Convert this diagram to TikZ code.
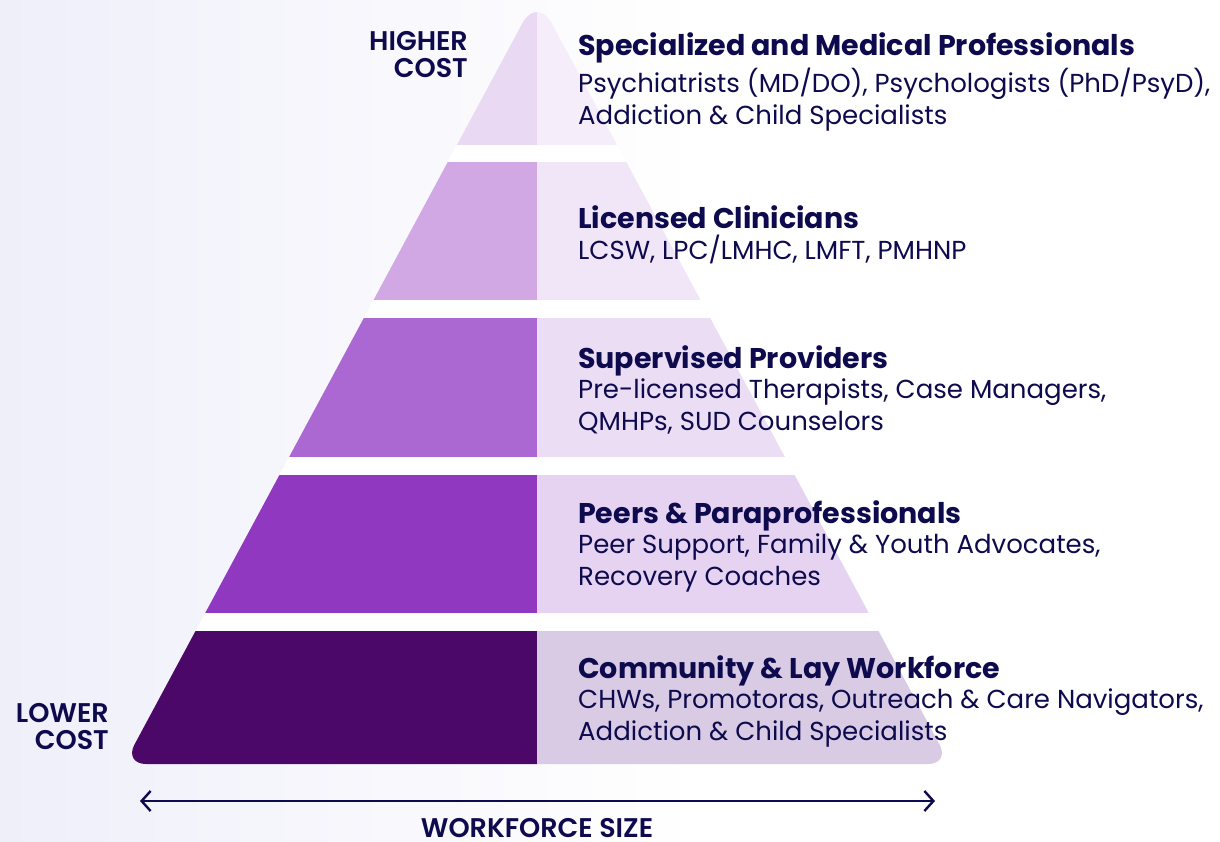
\documentclass[tikz,border=0pt]{standalone}
\usepackage{fontspec}
\setmainfont{Poppins}
\newfontface\semifont{Poppins SemiBold}
\usetikzlibrary{arrows.meta, positioning}
\definecolor{ink}{HTML}{0E0A4E}
\definecolor{bgleft}{HTML}{EFEFFA}
\definecolor{darkA}{HTML}{EAD9F2}
\definecolor{lightA}{HTML}{F5EEFA}
\definecolor{darkB}{HTML}{D1A8E3}
\definecolor{lightB}{HTML}{F0E6F7}
\definecolor{darkC}{HTML}{AB68D2}
\definecolor{lightC}{HTML}{EADDF4}
\definecolor{darkD}{HTML}{9038C0}
\definecolor{lightD}{HTML}{E6D3F1}
\definecolor{darkE}{HTML}{4B0868}
\definecolor{lightE}{HTML}{D8CBE3}
\tikzset{x=1pt, y=-1pt,
         tiertitle/.style={anchor=base west, inner sep=0pt, text=ink,
                           font=\fontsize{28.5}{32}\selectfont\bfseries},
         tiertext/.style={anchor=base west, inner sep=0pt, text=ink, align=left,
                          font=\fontsize{26}{32}\selectfont},
         costlabel/.style={anchor=base east, inner sep=0pt, text=ink, align=right,
                           font=\fontsize{27}{27}\semifont},
         }

\begin{document}
\begin{tikzpicture}
    % background
    \fill[white] (0,0) rectangle (1220,842);
    \shade[left color=bgleft, right color=white] (0,0) rectangle (700,842);
    \useasboundingbox (0,0) rectangle (1220,842);

    % pyramid
    \begin{scope}
        \clip[rounded corners=22pt] (537,764) -- (124,764)
            [rounded corners=31pt] -- (537,-4)
            [rounded corners=22pt] -- (950,764) -- cycle;
        \fill[white] (100,-10) rectangle (980,780);
        \foreach \top/\bot/\dark/\light in {-10/145/darkA/lightA, 162/300/darkB/lightB,
                318/457/darkC/lightC, 475/613/darkD/lightD, 631/780/darkE/lightE} {
            \fill[\dark] (100,\top) rectangle (537,\bot);
            \fill[\light] (537,\top) rectangle (980,\bot);
        }
    \end{scope}

    % tier labels (multi-line texts sit on their last line)
    \node[tiertitle] (titleA) at (578,56) {Specialized and Medical Professionals};
    \node[tiertext] (textA) at (578,125) {Psychiatrists (MD/DO), Psychologists (PhD/PsyD),\\Addiction \& Child Specialists};
    \node[tiertitle] (titleB) at (578,229) {Licensed Clinicians};
    \node[tiertext] (textB) at (578,259) {LCSW, LPC/LMHC, LMFT, PMHNP};
    \node[tiertitle] (titleC) at (578,368) {Supervised Providers};
    \node[tiertext] (textC) at (578,430) {Pre-licensed Therapists, Case Managers,\\QMHPs, SUD Counselors};
    \node[tiertitle] (titleD) at (578,523) {Peers \& Paraprofessionals};
    \node[tiertext] (textD) at (578,585) {Peer Support, Family \& Youth Advocates,\\Recovery Coaches};
    \node[tiertitle] (titleE) at (578,678) {Community \& Lay Workforce};
    \node[tiertext] (textE) at (578,740) {CHWs, Promotoras, Outreach \& Care Navigators,\\Addiction \& Child Specialists};

    % cost labels
    \node[costlabel] (higher) at (468,78) {HIGHER\\COST};
    \node[costlabel] (lower) at (109,749) {LOWER\\COST};

    % workforce axis
    \coordinate (axisL) at (140,801);
    \coordinate (axisR) at (935,801);
    \draw[ink, line width=2.4pt, {Straight Barb[length=9pt, width=20pt]}-{Straight Barb[length=9pt, width=20pt]}] (axisL) -- (axisR);
    \node[anchor=base, inner sep=0pt, text depth=0pt, text=ink, font=\fontsize{27}{27}\semifont] (size) at (537,837) {WORKFORCE SIZE};
\end{tikzpicture}
\end{document}
